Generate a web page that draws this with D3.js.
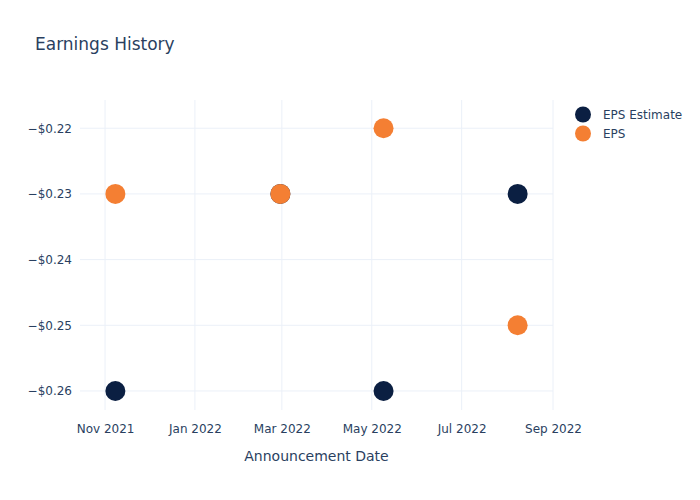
<!DOCTYPE html>
<html><head><meta charset="utf-8">
<script src="https://cdn.jsdelivr.net/npm/d3@7"></script>
<style>body{margin:0;background:#fff}svg{display:block}text{font-family:"DejaVu Sans",Verdana,sans-serif;fill:#2a3f5f}</style>
</head><body>
<script>
const dates = ["2021-11-08","2022-02-28","2022-05-09","2022-08-08"];
const epsEstimate = [-0.26,-0.23,-0.26,-0.23];
const eps = [-0.23,-0.23,-0.22,-0.25];
const seriesNames = ["EPS Estimate","EPS"];
const seriesColors = ["#0b1f42","#f47f33"];
const yTicks = [-0.26,-0.25,-0.24,-0.23,-0.22];
const xTicks = ["2021-11-01","2022-01-01","2022-03-01","2022-05-01","2022-07-01","2022-09-01"];
const xDomain = ["2021-10-15","2022-09-01"];
const yDomain = [-0.2629,-0.2157];

const W=700,H=500,L=80,R=553,T=100,B=410;
const parse=d3.utcParse("%Y-%m-%d");
const svg=d3.select("body").append("svg").attr("width",W).attr("height",H);
const x=d3.scaleUtc().domain(xDomain.map(parse)).range([L,R]);
const y=d3.scaleLinear().domain(yDomain).range([B,T]);

const g=svg.append("g");
g.selectAll(".vg").data(xTicks.map(parse)).join("line")
 .attr("x1",d=>x(d)).attr("x2",d=>x(d)).attr("y1",T).attr("y2",B)
 .attr("stroke","#ebf0f8").attr("stroke-width",1);
g.selectAll(".hg").data(yTicks).join("line")
 .attr("x1",L).attr("x2",R).attr("y1",d=>y(d)).attr("y2",d=>y(d))
 .attr("stroke","#ebf0f8").attr("stroke-width",1);

const fmtY=d=>"\u2212$"+Math.abs(d).toFixed(2);
const xAxis=d3.axisBottom(x).tickValues(xTicks.map(parse)).tickFormat(d3.utcFormat("%b %Y")).tickSize(0).tickPadding(14);
const ya=d3.axisLeft(y).tickValues(yTicks).tickFormat(fmtY).tickSize(0).tickPadding(8);
const gx=svg.append("g").attr("transform",`translate(0,${B})`).call(xAxis);
const gy=svg.append("g").attr("transform",`translate(${L},0)`).call(ya);
[gx,gy].forEach(a=>{a.select(".domain").remove();a.selectAll("text").style("font-size","12px").attr("fill","#2a3f5f");});

const series=[epsEstimate,eps];
series.forEach((vals,i)=>{
  svg.append("g").selectAll("circle").data(vals.map((v,j)=>({d:parse(dates[j]),v})))
   .join("circle").attr("cx",p=>x(p.d)).attr("cy",p=>y(p.v)).attr("r",10)
   .attr("fill",seriesColors[i]);
});

svg.append("text").attr("x",35).attr("y",50).style("font-size","17px").text("Earnings History");
svg.append("text").attr("x",(L+R)/2).attr("y",461).attr("text-anchor","middle").style("font-size","14px").text("Announcement Date");

const lg=svg.append("g");
seriesNames.forEach((n,i)=>{
  lg.append("circle").attr("cx",583).attr("cy",114.5+i*19).attr("r",8).attr("fill",seriesColors[i]);
  lg.append("text").attr("x",603).attr("y",119+i*19).style("font-size","12px").text(n);
});
</script>
</body></html>
